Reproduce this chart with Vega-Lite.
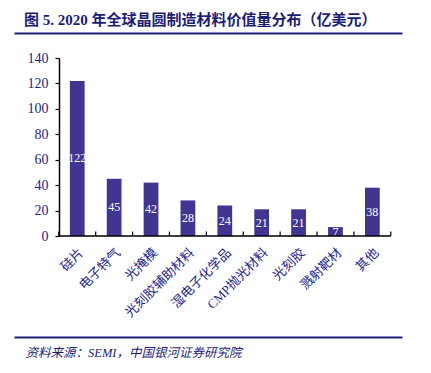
{
  "$schema": "https://vega.github.io/schema/vega-lite/v6.json",
  "autosize": "none",
  "width": 388,
  "height": 178,
  "padding": {"left": 14, "top": 58, "right": 29, "bottom": 137},
  "background": "white",
  "config": {
    "view": {"stroke": null},
    "axisY": {
      "orient": "left", "offset": -45, "title": null, "grid": false, "labelOverlap": false,
      "domainColor": "black", "domainWidth": 1.5, "tickColor": "black", "tickSize": 4, "tickWidth": 1.2,
      "labelPadding": 7, "labelFont": "Liberation Serif", "labelFontSize": 14, "labelColor": "#24248f"
    }
  },
  "title": {
    "text": "图 5. 2020 年全球晶圆制造材料价值量分布（亿美元）",
    "anchor": "start",
    "frame": "group",
    "dx": 10,
    "offset": 5,
    "font": "Liberation Serif, Noto Sans CJK SC",
    "fontSize": 15,
    "fontWeight": "bold",
    "color": "#1c1c78"
  },
  "data": {
    "values": [
      {"cat": "硅片", "value": 122},
      {"cat": "电子特气", "value": 45},
      {"cat": "光掩模", "value": 42},
      {"cat": "光刻胶辅助材料", "value": 28},
      {"cat": "湿电子化学品", "value": 24},
      {"cat": "CMP抛光材料", "value": 21},
      {"cat": "光刻胶", "value": 21},
      {"cat": "溅射靶材", "value": 7},
      {"cat": "其他", "value": 38}
    ]
  },
  "resolve": {"axis": {"x": "independent"}},
  "layer": [
    {
      "mark": {"type": "bar", "width": {"band": 0.4}, "color": "#413592"},
      "encoding": {
        "x": {
          "field": "cat", "type": "nominal", "sort": null,
          "scale": {"type": "band", "paddingInner": 0, "paddingOuter": 0.759, "align": 0.8},
          "axis": {
            "orient": "bottom", "offset": 101, "title": "资料来源：SEMI，中国银河证券研究院",
            "titleAnchor": "start", "titleX": 11, "titleY": 19, "titleBaseline": "alphabetic", "titleAlign": "left",
            "titleFont": "Liberation Serif, Noto Sans CJK SC", "titleFontSize": 12.5, "titleFontStyle": "italic",
            "titleFontWeight": "normal", "titleColor": "#1c1c78",
            "domainColor": "#1c1c78", "domainWidth": 2, "ticks": false, "tickSize": 0,
            "labelPadding": -91, "labelAngle": -45, "labelAlign": "right", "labelBaseline": "top",
            "labelFont": "Liberation Serif, Noto Sans CJK SC", "labelFontSize": 13, "labelColor": "#24248f",
            "grid": false
          }
        },
        "y": {
          "field": "value", "type": "quantitative",
          "scale": {"domain": [0, 140], "nice": false},
          "axis": {"values": [0, 20, 40, 60, 80, 100, 120, 140], "labelOverlap": false}
        }
      }
    },
    {
      "transform": [{"calculate": "datum.value / 2", "as": "mid"}],
      "mark": {"type": "text", "color": "white", "font": "Liberation Serif", "fontSize": 12, "baseline": "middle", "align": "center"},
      "encoding": {
        "x": {"field": "cat", "type": "nominal", "sort": null, "axis": null},
        "y": {"field": "mid", "type": "quantitative", "axis": {"values": [0, 20, 40, 60, 80, 100, 120, 140], "labelOverlap": false}},
        "text": {"field": "value", "type": "quantitative"}
      }
    },
    {
      "mark": {"type": "rule", "color": "black", "strokeWidth": 1.2},
      "encoding": {
        "x": {
          "field": "cat", "type": "nominal", "sort": null, "bandPosition": 0,
          "axis": {"orient": "top", "offset": 25, "labels": false, "ticks": false, "title": null, "grid": false, "domainColor": "#1c1c78", "domainWidth": 2}
        },
        "y": {"datum": 0, "axis": {"values": [0, 20, 40, 60, 80, 100, 120, 140], "labelOverlap": false}},
        "y2": {"datum": 3.5}
      }
    },
    {
      "transform": [{"filter": "datum.cat === '其他'"}],
      "mark": {"type": "rule", "color": "black", "strokeWidth": 1.2},
      "encoding": {
        "x": {"field": "cat", "type": "nominal", "sort": null, "bandPosition": 1, "axis": null},
        "y": {"datum": 0, "axis": {"values": [0, 20, 40, 60, 80, 100, 120, 140], "labelOverlap": false}},
        "y2": {"datum": 3.5}
      }
    },
    {
      "mark": {"type": "bar", "width": {"band": 1}, "fill": null, "stroke": "black", "strokeWidth": 1.5},
      "encoding": {
        "x": {"field": "cat", "type": "nominal", "sort": null, "axis": null},
        "y": {"datum": 0, "axis": {"values": [0, 20, 40, 60, 80, 100, 120, 140], "labelOverlap": false}},
        "y2": {"datum": 0}
      }
    }
  ]
}
